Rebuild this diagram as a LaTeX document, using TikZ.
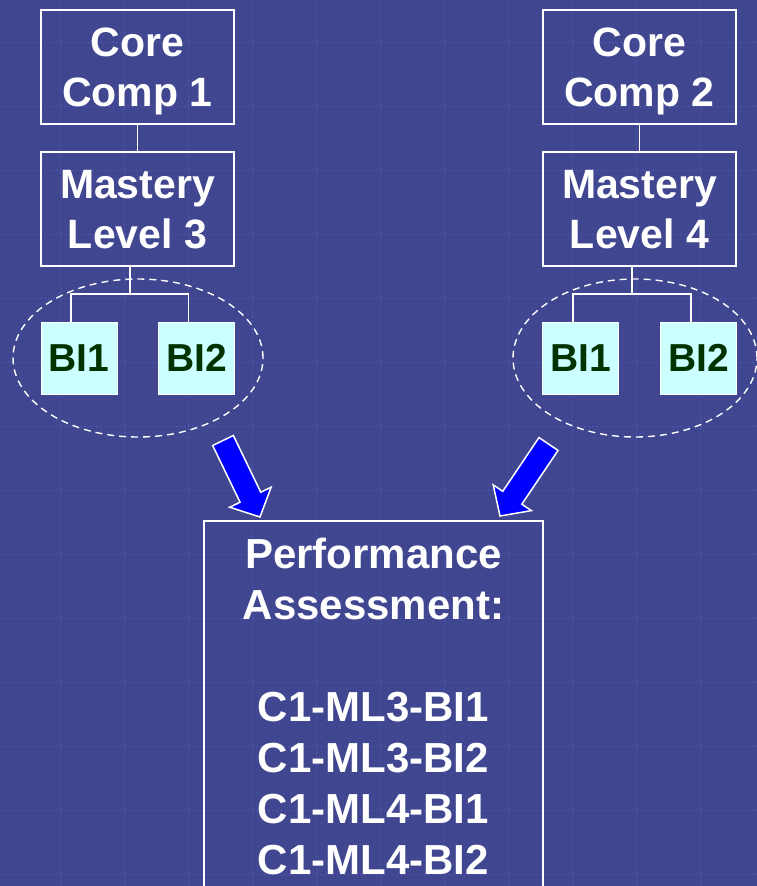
\documentclass[tikz,border=0pt]{standalone}
\usepackage{fontspec}
\setmainfont{Liberation Sans}
\usetikzlibrary{calc,shapes.geometric}

\definecolor{slidebg}{RGB}{64,70,143}
\definecolor{gridblue}{RGB}{76,86,172}
\definecolor{bicyan}{RGB}{204,255,255}
\definecolor{bigreen}{RGB}{0,51,0}
\definecolor{arrowblue}{RGB}{0,0,255}

% block arrow from tail #1 to tip #2
\newcommand{\blockarrow}[2]{%
  \coordinate (neck) at ($(#2)!22pt!(#1)$);
  \filldraw[bigarrow] ($(#1)!11.5pt!90:(#2)$) -- ($(neck)!11.5pt!-90:(#1)$)
    -- ($(neck)!23pt!-90:(#1)$) -- (#2) -- ($(neck)!23pt!90:(#1)$)
    -- ($(neck)!11.5pt!90:(#1)$) -- ($(#1)!11.5pt!-90:(#2)$) -- cycle;}

\begin{document}
\begin{tikzpicture}[x=1pt,y=-1pt,
    compbox/.style ={rectangle, draw=white, line width=1.5pt, text=white, align=center,
      font=\bfseries\fontsize{41}{50}\selectfont, text depth=0pt, minimum width=193pt, minimum height=114pt},
    bibox/.style ={rectangle, draw=white, line width=0.6pt, fill=bicyan, text=bigreen,
      font=\bfseries\fontsize{39}{44}\selectfont, inner sep=0pt, minimum width=76pt, minimum height=72pt},
    perfbox/.style ={rectangle, draw=white, line width=1.5pt, text=white, align=center,
      font=\bfseries\fontsize{42}{51}\selectfont, minimum width=339pt, minimum height=371pt},
    group/.style ={ellipse, draw=white, line width=1.4pt, dash pattern=on 7pt off 5pt},
    link/.style ={draw=white, line width=1.5pt},
    bigarrow/.style ={fill=arrowblue, draw=white, line width=1.5pt, line join=miter},
    gridline/.style ={gridblue, line width=0.8pt, dash pattern=on 2pt off 2pt}]
   \useasboundingbox (0,0) rectangle (757,886);
   \clip (0,0) rectangle (757,886);
   \fill[slidebg] (0,0) rectangle (757,886);
   \foreach \gx in {60,124,...,700} \draw[gridline] (\gx,0) -- (\gx,886);
   \foreach \gy in {42,106,...,874} \draw[gridline] (0,\gy) -- (757,\gy);

   % dashed groups
   \node[group, minimum width=250pt, minimum height=158pt] (g3) at (138,358) {};
   \node[group, minimum width=244pt, minimum height=158pt] (g4) at (635,358) {};

   % left branch
   \node[compbox] (cc1) at (137.5,67) {Core\\Comp 1};
   \node[compbox] (ml3) at (137.5,209) {Mastery\\Level 3};
   \node[bibox] (bi1a) at (79,358) {BI1};
   \node[bibox] (bi2a) at (196.5,358) {BI2};
   \coordinate (j3) at (130,294);
   \draw[link] (cc1) -- (ml3);
   \draw[link] (ml3.south -| j3) -- (j3);
   \draw[link] ([xshift=-8pt]bi1a.north) |- (j3) -| ([xshift=-8pt]bi2a.north);

   % right branch
   \node[compbox] (cc2) at (639.5,67) {Core\\Comp 2};
   \node[compbox] (ml4) at (639.5,209) {Mastery\\Level 4};
   \node[bibox] (bi1b) at (580.5,358) {BI1};
   \node[bibox] (bi2b) at (698.5,358) {BI2};
   \coordinate (j4) at (632,294);
   \draw[link] (cc2) -- (ml4);
   \draw[link] (ml4.south -| j4) -- (j4);
   \draw[link] ([xshift=-7.5pt]bi1b.north) |- (j4) -| ([xshift=-7.5pt]bi2b.north);

   % assessment
   \node[perfbox] (perf) at (373.5,706.5) {Performance\\Assessment:\\[51pt]C1-ML3-BI1\\C1-ML3-BI2\\C1-ML4-BI1\\C1-ML4-BI2};

   \coordinate (tailL) at (223,440.5);
   \coordinate (tipL) at (260,517);
   \coordinate (tailR) at (548.5,444);
   \coordinate (tipR) at (500,516);
   \blockarrow{tailL}{tipL}
   \blockarrow{tailR}{tipR}
 \end{tikzpicture}
\end{document}
